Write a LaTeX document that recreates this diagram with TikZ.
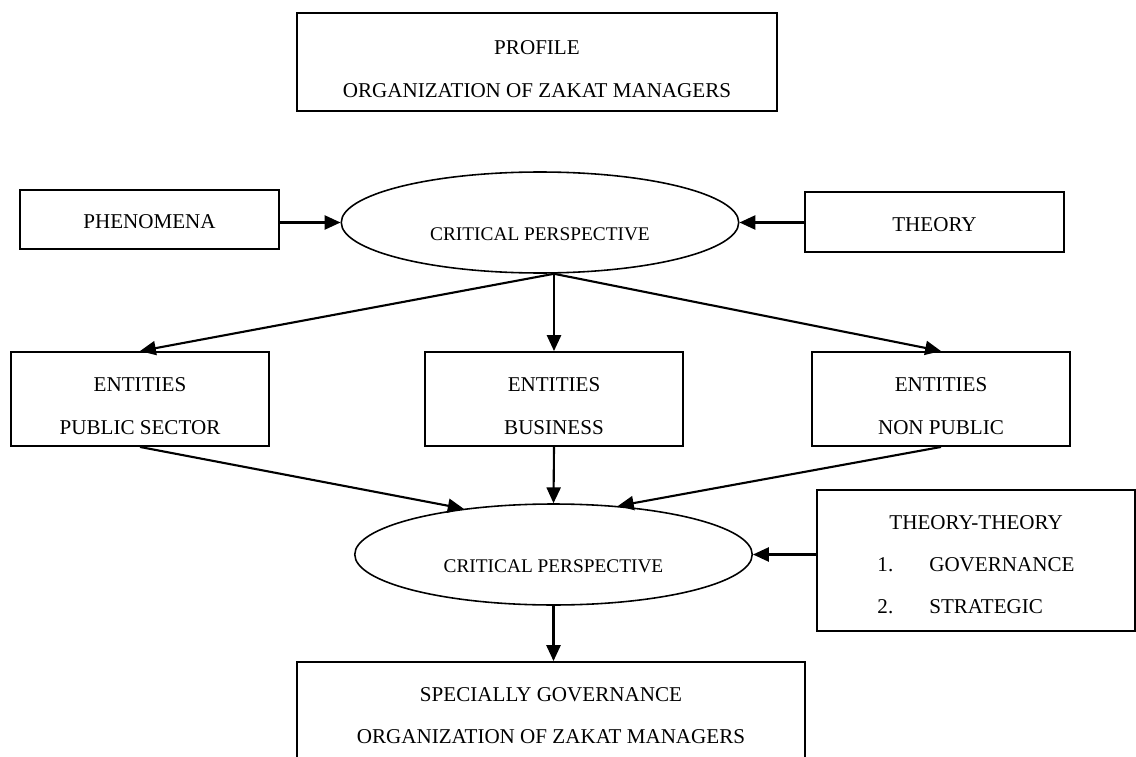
\documentclass[tikz,border=0pt]{standalone}
\usepackage{fontspec}
\setmainfont{Liberation Serif}
\usetikzlibrary{arrows.meta,shapes.geometric,calc}

\begin{document}
\begin{tikzpicture}[x=0.02cm,y=-0.02cm,
  box/.style={draw,line width=1.1pt,rectangle,inner sep=0pt,align=center,font=\fontsize{12}{24}\selectfont},
  oval/.style={draw,line width=0.9pt,ellipse,inner sep=0pt,minimum width=7.95cm,minimum height=2.02cm,font=\fontsize{11}{13}\selectfont,text height=20.9pt,text depth=0pt},
  arr/.style={line width=1.2pt,-{Triangle[length=9pt,width=8pt]}}]
  \useasboundingbox (0,0) rectangle (1136,757);
  \fill[white] (0,0) rectangle (1136,757);
  % top row
  \node[box,minimum width=9.6cm,minimum height=1.96cm,text height=40pt,text depth=0pt] (prof) at (537,62) {PROFILE\\ORGANIZATION OF ZAKAT MANAGERS};
  \node[box,minimum width=5.18cm,minimum height=1.18cm,text height=10.5pt,text depth=0pt] (phen) at (149.5,219.5) {PHENOMENA};
  \node[box,minimum width=5.18cm,minimum height=1.2cm,text height=10.5pt,text depth=0pt] (theory) at (934.5,222) {THEORY};
  \node[oval] (crit1) at (540,222.5) {CRITICAL PERSPECTIVE};
  % entities
  \node[box,minimum width=5.16cm,minimum height=1.88cm,text height=40pt,text depth=0pt] (pub) at (140,399) {ENTITIES\\PUBLIC SECTOR};
  \node[box,minimum width=5.16cm,minimum height=1.88cm,text height=40pt,text depth=0pt] (biz) at (554,399) {ENTITIES\\BUSINESS};
  \node[box,minimum width=5.16cm,minimum height=1.88cm,text height=40pt,text depth=0pt] (npub) at (941,399) {ENTITIES\\NON PUBLIC};
  % lower part
  \node[oval] (crit2) at (553.5,554.5) {CRITICAL PERSPECTIVE};
  \node[box,align=left,minimum width=6.36cm,minimum height=2.82cm,text height=60.3pt,text depth=0pt] (tt) at (976,560.5)
    {\hspace*{6.8pt}THEORY-THEORY\\\makebox[29.5pt][l]{1.}GOVERNANCE\\\makebox[29.5pt][l]{2.}STRATEGIC};
  \node[box,minimum width=10.16cm,minimum height=2.14cm] (spec) at (551,715.5) {SPECIALLY GOVERNANCE\\ORGANIZATION OF ZAKAT MANAGERS};
  \coordinate (fork) at (crit1.south -| biz.north);
  % arrows
  \draw[arr] (phen.east |- crit1.west) -- (crit1.west);
  \draw[arr] (theory.west |- crit1.east) -- (crit1.east);
  \draw[arr] (fork) -- (pub.north);
  \draw[arr] (fork) -- (biz.north);
  \draw[arr] (fork) -- (npub.north);
  \draw[arr] (pub.south) -- (crit2.153);
  \draw[arr] (biz.south) -- (crit2.north);
  \draw[arr] (npub.south) -- (crit2.37);
  \draw[arr] (tt.west |- crit2.east) -- (crit2.east);
  \draw[arr] (crit2.south) -- (crit2.south |- spec.north);
\end{tikzpicture}
\end{document}
